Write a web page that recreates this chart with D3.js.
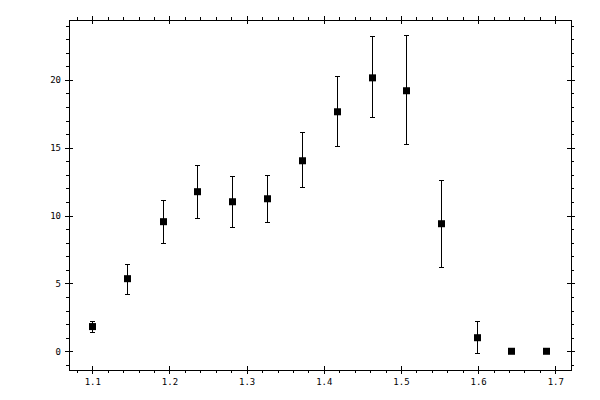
<!DOCTYPE html>
<html>
<head>
<meta charset="utf-8">
<script src="https://cdn.jsdelivr.net/npm/d3@7"></script>
<style>
  body { margin: 0; background: #fff; }
  svg { display: block; }
  .tick text { font-family: "DejaVu Sans Mono", monospace; font-size: 9px; fill: #000; }
  .tick line, .domain { stroke: #000; stroke-width: 1; shape-rendering: crispEdges; }
</style>
</head>
<body>
<script>
// data
var xVals = [1.100, 1.145, 1.191, 1.236, 1.281, 1.327, 1.372, 1.417, 1.462, 1.507, 1.552, 1.598, 1.643, 1.688];
var yVals = [1.82, 5.35, 9.55, 11.76, 11.02, 11.24, 14.04, 17.65, 20.15, 19.20, 9.40, 1.00, 0, 0];
var yLo   = [1.38, 4.17, 7.93, 9.77, 9.11, 9.48, 12.05, 15.07, 17.21, 15.22, 6.16, -0.15, 0, 0];
var yHi   = [2.19, 6.43, 11.10, 13.72, 12.86, 12.98, 16.10, 20.23, 23.17, 23.25, 12.57, 2.19, 0, 0];

var xMajor = [1.1, 1.2, 1.3, 1.4, 1.5, 1.6, 1.7];
var xLabels = ["1.1", "1.2", "1.3", "1.4", "1.5", "1.6", "1.7"];
var yMajor = [0, 5, 10, 15, 20];
var yLabels = ["0", "5", "10", "15", "20"];

// minor ticks: every 0.02 on x, every 1 on y
var xMinor = d3.range(1.08, 1.7001, 0.02).filter(function(d) {
  return Math.abs(d * 10 - Math.round(d * 10)) > 1e-6;
});
var yMinor = d3.range(-1, 25, 1).filter(function(d) { return d % 5 !== 0; });

var width = 600, height = 400;
var plotLeft = 69, plotRight = 570.5, plotTop = 19.5, plotBottom = 370;

var svg = d3.select("body").append("svg")
    .attr("width", width)
    .attr("height", height);

var x = d3.scaleLinear().domain([1.0698, 1.7197]).range([plotLeft, plotRight]);
var y = d3.scaleLinear().domain([-1.38, 24.45]).range([plotBottom, plotTop]);

function fmt(vals, labels) {
  return function(d) { return labels[vals.indexOf(d)]; };
}

//draw one side of the frame: major ticks crossing the line, minor ticks outside
function side(axisFn, scale, major, minor, labels, transform, pad) {
  var g = svg.append("g").attr("transform", transform);
  g.append("g").call(axisFn(scale).tickValues(minor).tickSize(3).tickSizeOuter(0).tickFormat(""))
    .select(".domain").remove();
  g.append("g").call(axisFn(scale).tickValues(major).tickSize(-4).tickSizeOuter(0).tickFormat(""))
    .select(".domain").remove();
  g.append("g").call(axisFn(scale).tickValues(major).tickSize(4).tickSizeOuter(0)
      .tickPadding(pad)
      .tickFormat(labels ? fmt(major, labels) : ""));
}

side(d3.axisBottom, x, xMajor, xMinor, xLabels, "translate(0," + plotBottom + ")", 5);
side(d3.axisTop, x, xMajor, xMinor, null, "translate(0," + plotTop + ")", 4);
side(d3.axisLeft, y, yMajor, yMinor, yLabels, "translate(" + plotLeft + ",0)", 4);
side(d3.axisRight, y, yMajor, yMinor, null, "translate(" + plotRight + ",0)", 4);

//error bars
var capHalf = 2.5;
var bars = svg.append("g")
    .attr("stroke", "#000")
    .attr("stroke-width", 1)
    .attr("shape-rendering", "crispEdges");

for (var i = 0; i < xVals.length; i++) {
  if (yHi[i] - yLo[i] <= 0) continue;
  var cx = Math.round(x(xVals[i])) + 0.5;
  bars.append("line")
      .attr("x1", cx).attr("x2", cx)
      .attr("y1", y(yLo[i])).attr("y2", y(yHi[i]));
  bars.append("line")
      .attr("x1", cx - capHalf).attr("x2", cx + capHalf)
      .attr("y1", y(yLo[i])).attr("y2", y(yLo[i]));
  bars.append("line")
      .attr("x1", cx - capHalf).attr("x2", cx + capHalf)
      .attr("y1", y(yHi[i])).attr("y2", y(yHi[i]));
}

//square markers
var size = 7;
svg.append("g").selectAll("rect")
    .data(xVals)
    .enter().append("rect")
    .attr("x", function(d) { return Math.round(x(d)) + 0.5 - size / 2; })
    .attr("y", function(d, i) { return y(yVals[i]) - size / 2; })
    .attr("width", size)
    .attr("height", size)
    .attr("fill", "#000");
</script>
</body>
</html>
